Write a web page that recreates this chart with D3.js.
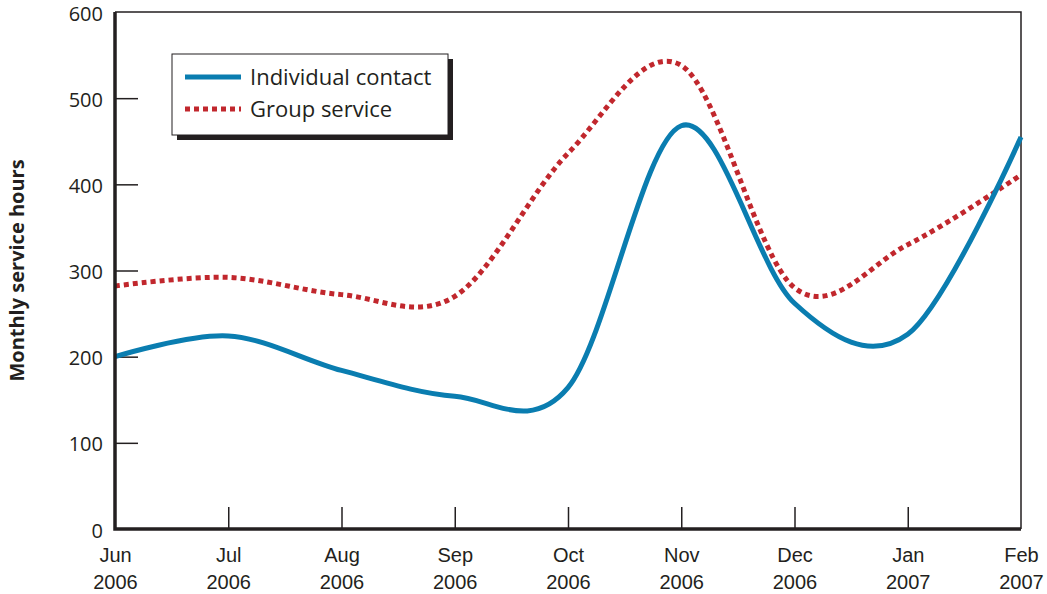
<!DOCTYPE html>
<html>
<head>
<meta charset="utf-8">
<script src="https://cdn.jsdelivr.net/npm/d3@7"></script>
<style>
  body { margin: 0; background: #fff; }
  svg { display: block; font-family: "Open Sans", "Noto Sans", sans-serif; }
</style>
</head>
<body>
<div id="root"></div>
<script>
const months = ["Jun", "Jul", "Aug", "Sep", "Oct", "Nov", "Dec", "Jan", "Feb"];
const years = ["2006", "2006", "2006", "2006", "2006", "2006", "2006", "2007", "2007"];
const individualContact = [200, 224, 184, 154, 164, 468, 262, 226, 455];
const groupService = [282, 292, 272, 270, 436, 538, 280, 330, 411];
const yTicks = [0, 100, 200, 300, 400, 500, 600];

const width = 1047;
const height = 594;
const margin = { top: 12, right: 26, bottom: 65, left: 115 };
const ink = "#231f20";

const svg = d3.select("#root").append("svg")
  .attr("width", width)
  .attr("height", height);

const x = d3.scalePoint()
  .domain(d3.range(months.length))
  .range([margin.left, width - margin.right]);

const y = d3.scaleLinear()
  .domain([0, 600])
  .range([height - margin.bottom, margin.top]);

// thin frame on top and right
svg.append("path")
  .attr("d", `M${x(0)},${y(600)}H${x(8)}V${y(0)}`)
  .attr("fill", "none")
  .attr("stroke", ink)
  .attr("stroke-width", 1.5);

// y labels
svg.append("g")
  .attr("transform", `translate(${margin.left},0)`)
  .call(d3.axisLeft(y).tickValues(yTicks).tickSize(0).tickPadding(12))
  .call(g => g.select(".domain").remove())
  .call(g => g.selectAll("text")
    .attr("dy", "0.4em")
    .attr("font-size", 20)
    .attr("font-family", "Open Sans")
    .attr("fill", ink));

// inner y ticks
svg.append("g")
  .attr("transform", `translate(${margin.left},0)`)
  .call(d3.axisRight(y).tickValues(yTicks.slice(1, -1)).tickSize(23).tickFormat(""))
  .call(g => g.select(".domain").remove())
  .call(g => g.selectAll("line").attr("stroke", ink).attr("stroke-width", 1.5));

// x labels
svg.append("g")
  .attr("transform", `translate(0,${y(0)})`)
  .call(d3.axisBottom(x).tickSize(0).tickFormat(""))
  .call(g => g.select(".domain").remove())
  .call(g => g.selectAll(".tick text").remove())
  .call(g => g.selectAll(".tick").append("text")
    .attr("text-anchor", "middle")
    .attr("font-size", 20)
    .attr("fill", ink)
    .call(t => t.append("tspan").attr("x", 0).attr("y", 33).text(i => months[i]))
    .call(t => t.append("tspan").attr("x", 0).attr("y", 60).text(i => years[i])));

// inner x ticks
svg.append("g")
  .attr("transform", `translate(0,${y(0)})`)
  .call(d3.axisTop(x).tickValues(d3.range(1, months.length - 1)).tickSize(22).tickFormat(""))
  .call(g => g.select(".domain").remove())
  .call(g => g.selectAll("line").attr("stroke", ink).attr("stroke-width", 1.5));

// y axis title
svg.append("text")
  .attr("transform", `translate(24,${(y(0) + y(600)) / 2}) rotate(-90)`)
  .attr("text-anchor", "middle")
  .attr("font-size", 20)
  .attr("font-weight", "bold")
  .attr("fill", ink)
  .text("Monthly service hours");

const line = d3.line()
  .x((d, i) => x(i))
  .y(d => y(d))
  .curve(d3.curveCardinal.tension(0));

svg.append("path")
  .datum(groupService)
  .attr("d", line)
  .attr("fill", "none")
  .attr("stroke", "#c1272d")
  .attr("stroke-width", 5)
  .attr("stroke-dasharray", "5,4");

svg.append("path")
  .datum(individualContact)
  .attr("d", line)
  .attr("fill", "none")
  .attr("stroke", "#0a7db0")
  .attr("stroke-width", 5);

// thick axes on left and bottom
svg.append("path")
  .attr("d", `M${x(0)},${y(600)}V${y(0)}H${x(8)}`)
  .attr("fill", "none")
  .attr("stroke", ink)
  .attr("stroke-width", 3.5);

// legend
const legend = svg.append("g").attr("transform", "translate(172,54)");
legend.append("rect")
  .attr("x", 5).attr("y", 5)
  .attr("width", 276).attr("height", 81)
  .attr("fill", ink);
legend.append("rect")
  .attr("width", 276).attr("height", 81)
  .attr("fill", "#fff")
  .attr("stroke", ink)
  .attr("stroke-width", 1);

const legendItems = [
  { label: "Individual contact", color: "#0a7db0", dash: null },
  { label: "Group service", color: "#c1272d", dash: "5,4" },
];
legendItems.forEach((d, i) => {
  const yy = 23 + i * 32;
  legend.append("line")
    .attr("x1", 13).attr("x2", 69)
    .attr("y1", yy).attr("y2", yy)
    .attr("stroke", d.color)
    .attr("stroke-width", 5)
    .attr("stroke-dasharray", d.dash);
  legend.append("text")
    .attr("x", 78).attr("y", yy)
    .attr("dy", "0.35em")
    .attr("font-size", 22)
    .attr("fill", ink)
    .text(d.label);
});
</script>
</body>
</html>
